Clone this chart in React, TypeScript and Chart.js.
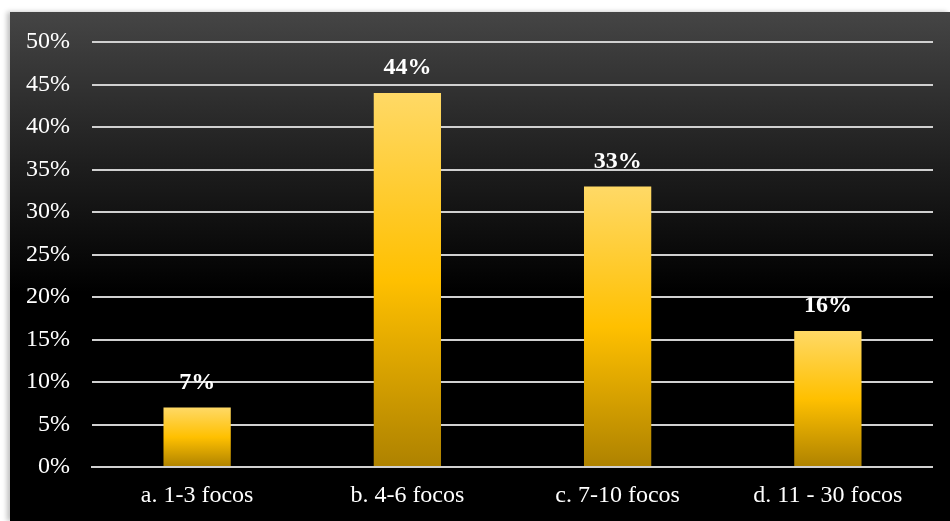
import React, { useEffect, useRef } from "react";
import { Chart, registerables } from "chart.js";

Chart.register(...registerables);

const categories = ["a. 1-3 focos", "b. 4-6 focos", "c. 7-10 focos", "d. 11 - 30 focos"];
const values = [7, 44, 33, 16];
const yMax = 50;
const yStep = 5;

const FONT = "'Liberation Serif', 'Times New Roman', serif";

const dataLabelPlugin = {
  id: "dataLabels",
  afterDatasetsDraw(chart: any) {
    const ctx = chart.ctx;
    const meta = chart.getDatasetMeta(0);
    ctx.save();
    ctx.fillStyle = "#ffffff";
    ctx.font = `bold 24px ${FONT}`;
    ctx.textAlign = "center";
    ctx.textBaseline = "middle";
    meta.data.forEach((bar: any, i: number) => {
      ctx.fillText(values[i] + "%", bar.x, bar.y - 25);
    });
    ctx.restore();
  },
};

export default function App() {
  const ref = useRef<HTMLCanvasElement | null>(null);
  useEffect(() => {
    if (!ref.current) return;
    const chart = new Chart(ref.current, {
      type: "bar",
      data: {
        labels: categories,
        datasets: [
          {
            data: values,
            barPercentage: 0.32,
            categoryPercentage: 1,
            backgroundColor: (context: any) => {
              const c = context.chart;
              const area = c.chartArea;
              if (!area || context.raw === undefined) return "#ffc000";
              const yScale = c.scales.y;
              const top = yScale.getPixelForValue(context.raw);
              const bottom = yScale.getPixelForValue(0);
              const g = c.ctx.createLinearGradient(0, top, 0, bottom);
              g.addColorStop(0, "#ffd966");
              g.addColorStop(0.5, "#ffc000");
              g.addColorStop(1, "#ae8200");
              return g;
            },
            borderWidth: 0,
          },
        ],
      },
      options: {
        animation: false,
        responsive: false,
        maintainAspectRatio: false,
        layout: { padding: { top: 30, right: 0, left: 0, bottom: 0 } },
        plugins: {
          legend: { display: false },
          tooltip: { enabled: false },
        },
        scales: {
          x: {
            grid: { display: false, drawTicks: false },
            border: { display: true, color: "#d0d0d0", width: 2 },
            ticks: {
              color: "#ffffff",
              font: { family: FONT, size: 24 },
              padding: 14,
            },
            afterFit: (scale: any) => {
              scale.height = 54;
            },
          },
          y: {
            min: 0,
            max: yMax,
            grid: { color: "#d0d0d0", lineWidth: 2, drawTicks: false },
            border: { display: false },
            ticks: {
              stepSize: yStep,
              color: "#ffffff",
              font: { family: FONT, size: 24 },
              padding: 22,
              callback: (v: any) => v + "%",
            },
            afterFit: (scale: any) => {
              scale.width = 82;
              scale.paddingTop = 0;
              scale.paddingBottom = 0;
            },
          },
        },
      },
      plugins: [dataLabelPlugin],
    });
    return () => chart.destroy();
  }, []);

  return (
    <div
      style={{
        position: "absolute",
        left: 10,
        top: 12,
        width: 940,
        height: 509,
        background: "linear-gradient(to bottom, #454545 0%, #1e1e1e 30%, #000000 55%, #000000 100%)",
        boxShadow: "-3px 0 5px rgba(0,0,0,0.25)",
      }}
    >
      <canvas ref={ref} width={923} height={509} style={{ display: "block" }} />
    </div>
  );
}
